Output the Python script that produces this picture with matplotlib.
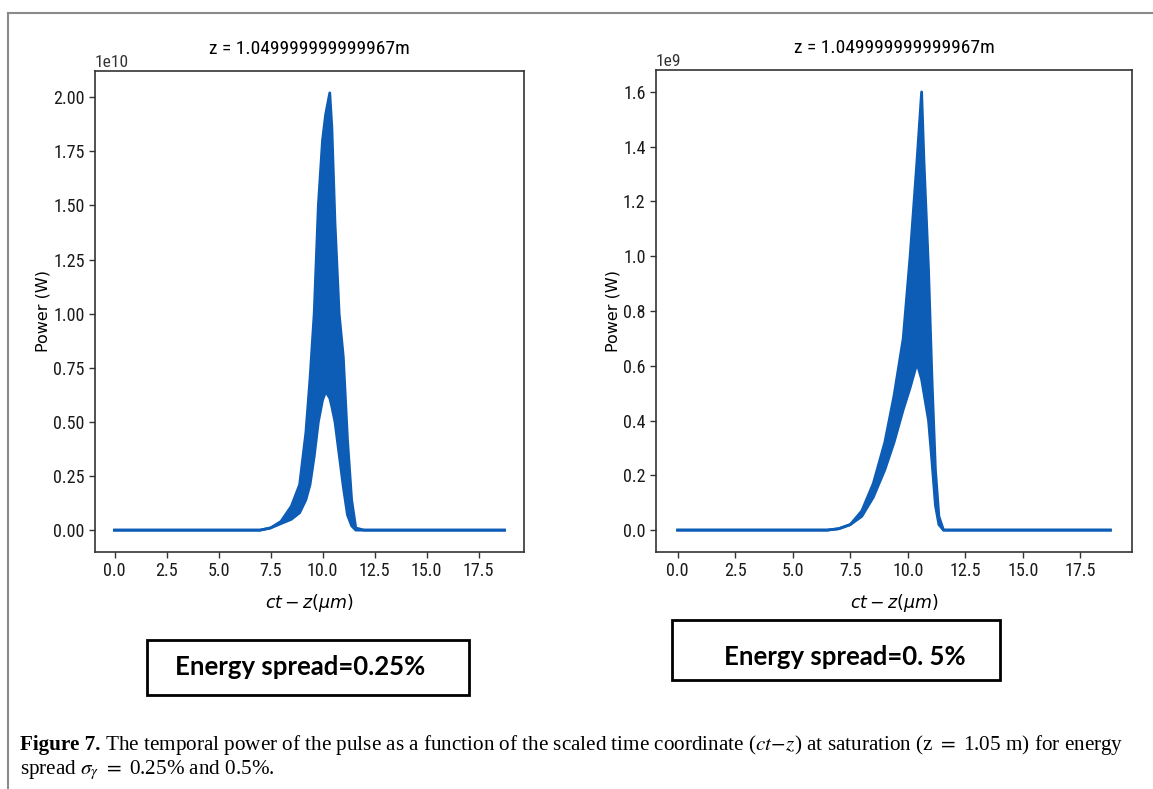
import matplotlib

matplotlib.use("Agg")
import matplotlib.pyplot as plt
from matplotlib.lines import Line2D
from matplotlib.patches import Rectangle
import numpy as np

# Left panel: energy spread 0.25 %, power in units of 1e10 W
# upper / lower envelope of the fast oscillation
x_a = [0.0, 7.0, 7.5, 8.0, 8.5, 8.9, 9.2, 9.4, 9.6, 9.8, 10.0, 10.15, 10.35,
       10.45, 10.6, 10.8, 11.0, 11.2, 11.4, 11.6, 12.0, 18.75]
hi_a = [0.0, 0.0, 0.01, 0.04, 0.11, 0.21, 0.45, 0.70, 1.00, 1.50, 1.80, 1.92,
        2.02, 1.86, 1.42, 1.00, 0.80, 0.42, 0.14, 0.01, 0.0, 0.0]
lo_a = [0.0, 0.0, 0.01, 0.03, 0.05, 0.08, 0.14, 0.21, 0.34, 0.50, 0.60, 0.64,
        0.61, 0.57, 0.50, 0.35, 0.20, 0.07, 0.02, 0.0, 0.0, 0.0]

# Right panel: energy spread 0.5 %, power in units of 1e9 W
x_b = [0.0, 6.5, 7.0, 7.5, 8.0, 8.5, 9.0, 9.4, 9.8, 10.1, 10.4, 10.6, 10.7,
       10.9, 11.05, 11.2, 11.35, 11.55, 12.0, 18.8]
hi_b = [0.0, 0.0, 0.005, 0.02, 0.07, 0.17, 0.32, 0.49, 0.70, 1.00, 1.35, 1.60,
        1.35, 0.95, 0.55, 0.22, 0.05, 0.0, 0.0, 0.0]
lo_b = [0.0, 0.0, 0.005, 0.02, 0.05, 0.12, 0.22, 0.32, 0.44, 0.52, 0.61, 0.55,
        0.50, 0.40, 0.25, 0.09, 0.02, 0.0, 0.0, 0.0]

title = "z = 1.049999999999967m"
yticks_a = [0.0, 0.25, 0.5, 0.75, 1.0, 1.25, 1.5, 1.75, 2.0]
yticks_b = [0.0, 0.2, 0.4, 0.6, 0.8, 1.0, 1.2, 1.4, 1.6]
xticks = [0.0, 2.5, 5.0, 7.5, 10.0, 12.5, 15.0, 17.5]
box_labels = ["Energy spread=0.25%", "Energy spread=0. 5%"]

blue = "#0d5cb6"
narrow = ["Roboto Condensed", "DejaVu Sans Condensed", "Liberation Sans Narrow", "Roboto"]
W, H = 1153, 789

fig = plt.figure(figsize=(W / 100, H / 100), dpi=100)


def panel(rect, x, hi, lo, scale, yticks):
    ax = fig.add_axes(rect)
    x = np.array(x)
    hi = np.array(hi) * scale
    lo = np.array(lo) * scale
    ax.fill_between(x, lo, hi, color=blue, lw=0)
    ax.plot(x, hi, color=blue, lw=2)
    ax.plot(x, lo, color=blue, lw=2)
    ax.set_yticks(np.array(yticks) * scale)
    ax.set_xticks(xticks)
    ax.set_title(title, fontsize=14, family=narrow, pad=12)
    ax.set_ylabel("Power (W)", fontsize=11.5, family="DejaVu Sans", labelpad=2)
    ax.set_xlabel(r"$ct - z(\mu m)$", fontsize=12.5, labelpad=8)
    for s in ax.spines.values():
        s.set_color("#333333")
        s.set_linewidth(1.2)
    ax.tick_params(colors="#333333", labelsize=13, length=4, width=1)
    for lab in ax.get_xticklabels() + ax.get_yticklabels():
        lab.set_family(narrow)
        lab.set_color("#1a1a1a")
    ax.yaxis.get_offset_text().set_family(narrow)
    ax.yaxis.get_offset_text().set_fontsize(12.5)
    return ax


ax1 = panel([95 / W, 1 - 552 / H, 429 / W, 481 / H], x_a, hi_a, lo_a, 1e10, yticks_a)
ax2 = panel([656 / W, 1 - 552 / H, 476 / W, 482 / H], x_b, hi_b, lo_b, 1e9, yticks_b)

# outer frame of the screenshot
fig.add_artist(Line2D([8 / W, 8 / W], [0, 1 - 13 / H], transform=fig.transFigure,
                      color="#8a8a8a", lw=1.5))
fig.add_artist(Line2D([8 / W, 1], [1 - 13 / H, 1 - 13 / H], transform=fig.transFigure,
                      color="#8a8a8a", lw=1.5))

# annotation boxes
boxes = [(147, 640, 469, 695), (672, 620, 1000, 680)]
text_xy = [(300, 667), (845, 657)]
for (x0, y0, x1, y1), (tx, ty), lab in zip(boxes, text_xy, box_labels):
    fig.add_artist(Rectangle((x0 / W, 1 - y1 / H), (x1 - x0) / W, (y1 - y0) / H,
                             transform=fig.transFigure, fill=False,
                             edgecolor="black", lw=2))
    fig.text(tx / W, 1 - ty / H, lab, ha="center",
             va="center", fontsize=18.5, fontweight="bold", family="Lato")

# caption
cap_size = 15.2
cap = fig.text(20 / W, 1 - 750 / H, "Figure 7.", fontsize=cap_size, fontweight="bold",
               family="Liberation Serif", va="baseline")
renderer = fig.canvas.get_renderer()
bw = cap.get_window_extent(renderer).width
fig.text((20 + bw) / W, 1 - 750 / H,
         r" The temporal power of the pulse as a function of the scaled time coordinate "
         r"($ct\!-\!z$) at saturation (z $=$ 1.05 m) for energy",
         fontsize=cap_size, family="Liberation Serif", math_fontfamily="stix",
         va="baseline")
fig.text(20 / W, 1 - 774 / H, r"spread $\sigma_\gamma$ $=$ 0.25% and 0.5%.",
         fontsize=cap_size, family="Liberation Serif", math_fontfamily="stix",
         va="baseline")

fig.savefig("out.png", dpi=100)
